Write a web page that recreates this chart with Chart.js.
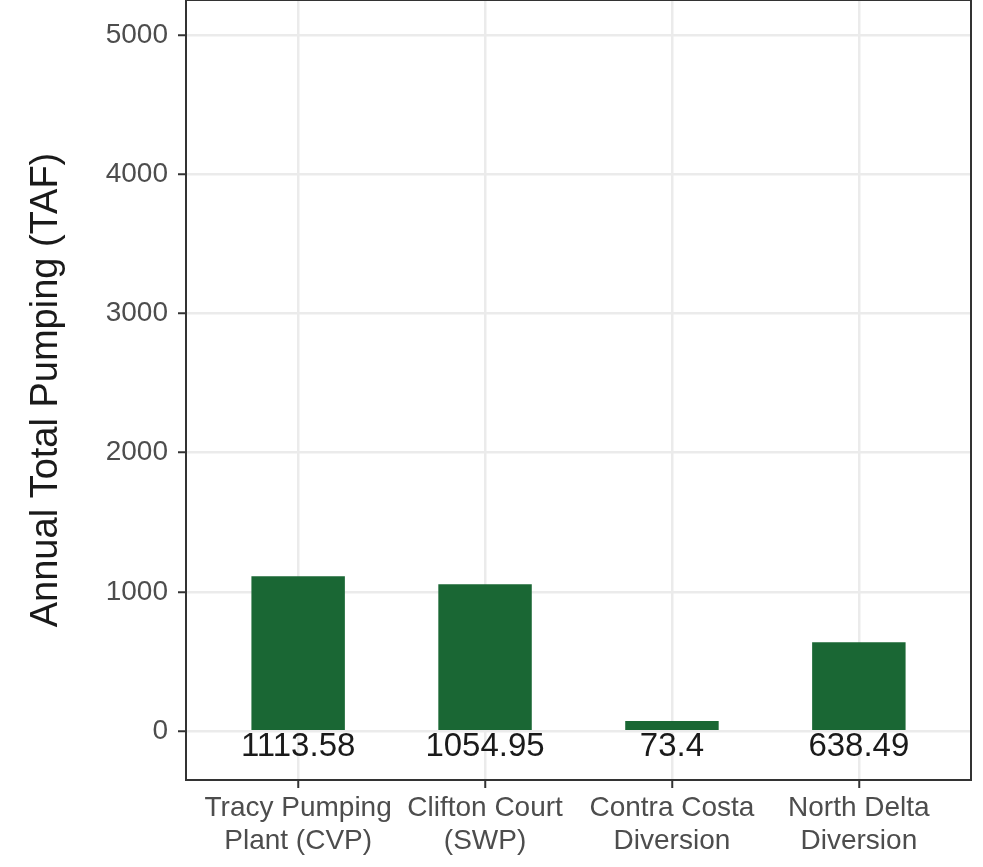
<!DOCTYPE html>
<html>
<head>
<meta charset="utf-8">
<script src="https://cdn.jsdelivr.net/npm/chart.js@4/dist/chart.umd.min.js"></script>
<style>
  html, body { margin: 0; padding: 0; background: #ffffff; }
  #chart { display: block; }
</style>
</head>
<body>
<canvas id="chart" width="983" height="867"></canvas>
<script>
var sites = [
  ["Tracy Pumping", "Plant (CVP)"],
  ["Clifton Court", "(SWP)"],
  ["Contra Costa", "Diversion"],
  ["North Delta", "Diversion"]
];
var pumping = [1113.58, 1054.95, 73.4, 638.49];
var yTicks = [0, 1000, 2000, 3000, 4000, 5000];
var yTitle = "Annual Total Pumping (TAF)";

var fontFamily = "'Liberation Sans', Arial, Helvetica, sans-serif";

window.addEventListener('load', init);

function init() {
  var points = pumping.map(function(v, i) { return {x: i + 1, y: v}; });

  // bar value labels just under the zero line, plus the panel border
  var extras = {
    id: 'extras',
    afterDatasetsDraw: function(chart) {
      var ctx = chart.ctx;
      var xs = chart.scales.x, ys = chart.scales.y;
      ctx.save();
      ctx.fillStyle = '#1a1a1a';
      ctx.font = '33px ' + fontFamily;
      ctx.textAlign = 'center';
      ctx.textBaseline = 'alphabetic';
      pumping.forEach(function(v, i) {
        ctx.fillText(String(v), xs.getPixelForValue(i + 1), ys.getPixelForValue(0) + 25);
      });
      var a = chart.chartArea;
      ctx.strokeStyle = '#333333';
      ctx.lineWidth = 2;
      ctx.strokeRect(a.left, a.top, a.right - a.left, a.bottom - a.top);
      ctx.restore();
    }
  };

  new Chart('chart', {
    type: 'bar',
    data: {
      datasets: [
        {
          data: points,
          backgroundColor: '#1a6734',
          categoryPercentage: 0.5,
          barPercentage: 1.0
        }
      ]
    },
    options: {
      responsive: false,
      animation: false,
      devicePixelRatio: 1,
      layout: { padding: { left: 0, right: 12, top: 0, bottom: 0 } },
      plugins: {
        legend: { display: false },
        tooltip: { enabled: false }
      },
      scales: {
        x: {
          type: 'linear',
          min: 0.4,
          max: 4.6,
          offset: false,
          afterBuildTicks: function(scale) {
            scale.ticks = sites.map(function(s, i) { return {value: i + 1}; });
          },
          afterFit: function(scale) {
            scale.height = 87;
            scale.paddingLeft = 0;
            scale.paddingRight = 0;
          },
          grid: { offset: false, color: '#ebebeb', lineWidth: 2.5, tickColor: '#333333', tickLength: 8, tickWidth: 2 },
          border: { display: false },
          ticks: {
            color: '#4d4d4d',
            font: { family: fontFamily, size: 28, lineHeight: 1.2 },
            padding: 3,
            maxRotation: 0,
            autoSkip: false,
            callback: function(value) { return sites[value - 1]; }
          }
        },
        y: {
          min: -350,
          max: 5250,
          afterBuildTicks: function(scale) {
            scale.ticks = yTicks.map(function(v) { return {value: v}; });
          },
          afterFit: function(scale) {
            scale.width = 186;
            scale.paddingTop = 0;
            scale.paddingBottom = 0;
          },
          grid: { color: '#ebebeb', lineWidth: 2.5, tickColor: '#333333', tickLength: 8, tickWidth: 2 },
          border: { display: false },
          ticks: {
            color: '#4d4d4d',
            font: { family: fontFamily, size: 28 },
            padding: 10,
            callback: function(value) { return String(value); }
          },
          title: {
            display: true,
            text: yTitle,
            color: '#1a1a1a',
            font: { family: fontFamily, size: 38 },
            padding: { top: 24, bottom: 0 }
          }
        }
      }
    },
    plugins: [extras]
  });
}
</script>
</body>
</html>
